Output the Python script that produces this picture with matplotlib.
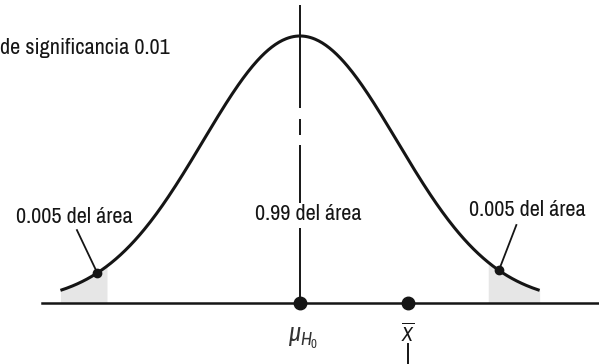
import numpy as np
import matplotlib
matplotlib.use("Agg")
import matplotlib.pyplot as plt
from matplotlib import font_manager

# ---------------------------
# Data (x in standard deviations, y relative to the peak height)
# ---------------------------
curve_range = [-2.47, 2.47]
left_tail = [-2.47, -1.99]
right_tail = [1.94, 2.47]
tail_points = [-2.09, 2.05]
label_starts = [(-2.30, 0.273), (2.23, 0.292)]
mu_x = 0.0
xbar_x = 1.11
axis_range = [-2.66, 3.09]
# pieces of the vertical line through the mean
mean_line_pieces = [(0.0, 0.28), (0.375, 0.59), (0.63, 0.69), (0.73, 1.116)]

texts = ["de significancia 0.01", "0.005 del área", "0.99 del área", "0.005 del área"]
text_pos = [(-3.09, 0.933), (-2.33, 0.30), (0.08, 0.311), (2.34, 0.326)]

# ---------------------------
# Font (condensed sans if there is one)
# ---------------------------
names = {f.name for f in font_manager.fontManager.ttflist}
font, fsize = "Liberation Sans", 13
for cand, size in [("Archivo Narrow", 16), ("Roboto Condensed", 15), ("Liberation Sans Narrow", 16)]:
    if cand in names:
        font, fsize = cand, size
        break
plt.rcParams["font.family"] = [font, "DejaVu Sans"]
plt.rcParams["mathtext.fontset"] = "custom"
plt.rcParams["mathtext.it"] = font + ":italic"
plt.rcParams["mathtext.rm"] = font

ink = "#151515"

# ---------------------------
# Plot
# ---------------------------
fig = plt.figure(figsize=(5.99, 3.64), dpi=100)
ax = fig.add_axes([0, 0, 1, 1])
ax.set_xlim(-3.093, 3.082)
ax.set_ylim(-0.2285, 1.1348)
ax.axis("off")


def bell(x):
    return np.exp(-np.asarray(x) ** 2 / 2)


# shaded tails
for a, b in [left_tail, right_tail]:
    xs = np.linspace(a, b, 50)
    ax.fill_between(xs, 0, bell(xs), color="#e6e6e6", lw=0, zorder=1)

# base line
ax.plot(axis_range, [0, 0], color=ink, lw=1.8, zorder=2)

# curve
xs = np.linspace(curve_range[0], curve_range[1], 400)
ax.plot(xs, bell(xs), color=ink, lw=2.2, solid_capstyle="butt", zorder=3)

# vertical line at the mean
for y0, y1 in mean_line_pieces:
    ax.plot([mu_x, mu_x], [y0, y1], color=ink, lw=1.4, solid_capstyle="butt", zorder=2)

# small tick below x-bar
ax.plot([xbar_x, xbar_x], [-0.155, -0.23], color=ink, lw=1.4, zorder=2)

# points on the axis
ax.plot([mu_x, xbar_x], [0, 0], "o", color=ink, ms=9, zorder=4)

# pointers to the tails
for (sx, sy), px in zip(label_starts, tail_points):
    ax.plot([sx, px], [sy, bell(px)], color=ink, lw=1.3, zorder=4)
    ax.plot(px, bell(px), "o", color=ink, ms=6, zorder=4)

# texts
ax.text(text_pos[0][0], text_pos[0][1], texts[0], fontsize=fsize, color=ink,
        ha="left", va="baseline")
for t, (x, y) in zip(texts[1:], text_pos[1:]):
    ax.text(x, y, t, fontsize=fsize, color=ink, ha="center", va="baseline")

ax.text(mu_x + 0.03, -0.085, r"$\mu_{H_0}$", fontsize=fsize + 3, color="#333333",
        ha="center", va="top")
ax.text(xbar_x, -0.07, r"$\overline{X}$", fontsize=fsize - 2, color=ink,
        ha="center", va="top")

plt.savefig("out.png", dpi=100)
